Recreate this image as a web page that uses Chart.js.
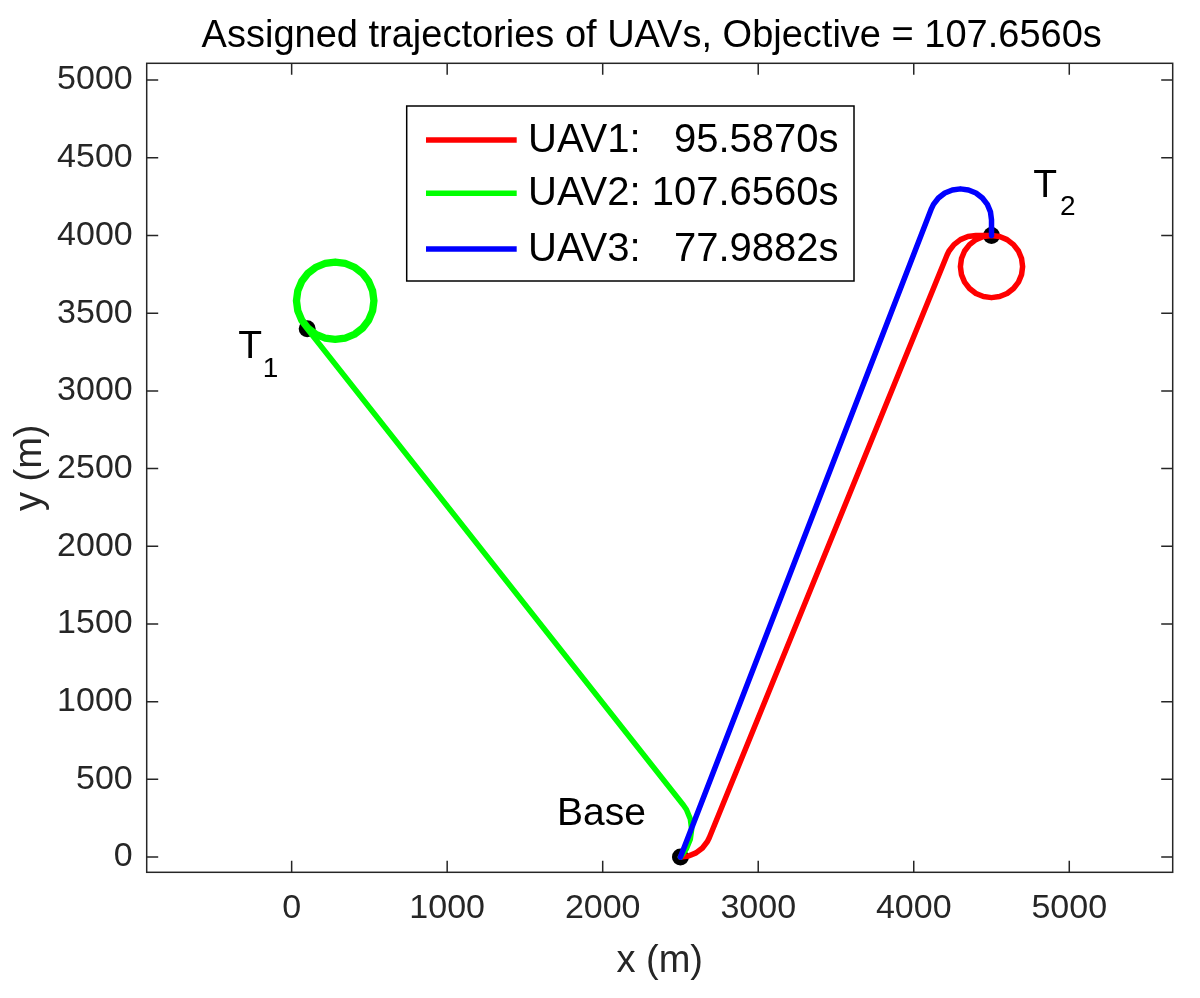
<!DOCTYPE html>
<html>
<head>
<meta charset="utf-8">
<title>Assigned trajectories of UAVs</title>
<script src="https://cdn.jsdelivr.net/npm/chart.js@4/dist/chart.umd.min.js"></script>
<style>
  html, body { margin: 0; padding: 0; background: #fff; }
  #plot { display: block; }
</style>
</head>
<body>
<canvas id="plot" width="1200" height="998"></canvas>
<script>
// values (metres)
const chartTitle = "Assigned trajectories of UAVs, Objective = 107.6560s";
const xLabel = "x (m)";
const yLabel = "y (m)";
const xTicks = [0, 1000, 2000, 3000, 4000, 5000];
const yTicks = [0, 500, 1000, 1500, 2000, 2500, 3000, 3500, 4000, 4500, 5000];
const xRange = [-932, 5665];
const yRange = [-98, 5108];

const uavNames = ["UAV1:   95.5870s", "UAV2: 107.6560s", "UAV3:   77.9882s"];
const uavColors = ["#ff0000", "#00ff00", "#0000ff"];

// UAV1: base -> turn -> straight -> turn -> T2, then one loiter loop round T2
const uav1Path = [
  [2500, 0], [2551.8, 6.8], [2600, 26.8], [2641.4, 58.6], [2673.2, 100], [2685.2, 124.5],
  [4214.8, 3875.5], [4226.8, 3900], [4258.6, 3941.4], [4300, 3973.2], [4348.2, 3993.2], [4400, 4000],
  [4500, 4000], [4551.8, 3993.2], [4600, 3973.2], [4641.4, 3941.4], [4673.2, 3900], [4693.2, 3851.8],
  [4700, 3800], [4693.2, 3748.2], [4673.2, 3700], [4641.4, 3658.6], [4600, 3626.8], [4551.8, 3606.8],
  [4500, 3600], [4448.2, 3606.8], [4400, 3626.8], [4358.6, 3658.6], [4326.8, 3700], [4306.8, 3748.2],
  [4300, 3800], [4306.8, 3851.8], [4326.8, 3900], [4358.6, 3941.4], [4400, 3973.2], [4448.2, 3993.2],
  [4500, 4000]
];

// UAV2: base -> turn -> straight -> T1, then loiter loops round T1
const uav2Path = [
  [2500, 0], [2538.2, 54], [2563.4, 114.8], [2572, 180], [2563.4, 245.2], [2538.2, 306], [2518.3, 335.5],
  [100, 3400], [59.2, 3452.5], [33.7, 3514], [25, 3580], [33.7, 3646], [59.2, 3707.5], [99.7, 3760.3],
  [152.5, 3800.8], [214, 3826.3], [280, 3835], [346, 3826.3], [407.5, 3800.8], [460.3, 3760.3],
  [500.8, 3707.5], [526.3, 3646], [535, 3580], [526.3, 3514], [500.8, 3452.5], [460.3, 3399.7],
  [407.5, 3359.2], [346, 3333.7], [280, 3325], [214, 3333.7], [152.5, 3359.2], [108.2, 3408.2],
  [69.6, 3458.5], [45.3, 3517.1], [37, 3580], [45.3, 3642.9], [69.6, 3701.5], [108.2, 3751.8],
  [158.5, 3790.4], [217.1, 3814.7], [280, 3823], [342.9, 3814.7], [401.5, 3790.4], [451.8, 3751.8],
  [490.4, 3701.5], [514.7, 3642.9], [523, 3580], [514.7, 3517.1], [490.4, 3458.5], [451.8, 3408.2],
  [401.5, 3369.6], [342.9, 3345.3], [280, 3337], [217.1, 3345.3], [158.5, 3369.6], [108.2, 3408.2]
];

// UAV3: base -> straight -> turn over the top -> down into T2
const uav3Path = [
  [2500, 0], [4113.8, 4173], [4126.8, 4200], [4158.6, 4241.4], [4200, 4273.2], [4248.2, 4293.2],
  [4300, 4300], [4351.8, 4293.2], [4400, 4273.2], [4441.4, 4241.4], [4473.2, 4200], [4493.2, 4151.8],
  [4500, 4100], [4500, 4000]
];

const siteX = [2500, 100, 4500];
const siteY = [0, 3400, 4000];

const fontFamily = "'Liberation Sans', Arial, Helvetica, sans-serif";
const axisColor = "#262626";

function lineSet(label, color, path, order) {
  return {
    label: label,
    data: path,
    showLine: true,
    borderColor: color,
    backgroundColor: color,
    borderWidth: 5.5,
    pointRadius: 0,
    pointHoverRadius: 0,
    tension: 0,
    fill: false,
    borderCapStyle: "round",
    borderJoinStyle: "round",
    order: order
  };
}

const decorPlugin = {
  id: "decor",
  afterDraw(chart) {
    const ctx = chart.ctx;
    const a = chart.chartArea;
    const sx = chart.scales.x;
    const sy = chart.scales.y;
    const tick = 11.5;
    ctx.save();

    // axes box with inward ticks on all four sides
    ctx.strokeStyle = axisColor;
    ctx.lineWidth = 1.5;
    ctx.strokeRect(a.left, a.top, a.right - a.left, a.bottom - a.top);
    ctx.beginPath();
    xTicks.forEach(function (v) {
      const px = sx.getPixelForValue(v);
      ctx.moveTo(px, a.bottom); ctx.lineTo(px, a.bottom - tick);
      ctx.moveTo(px, a.top); ctx.lineTo(px, a.top + tick);
    });
    yTicks.forEach(function (v) {
      const py = sy.getPixelForValue(v);
      ctx.moveTo(a.left, py); ctx.lineTo(a.left + tick, py);
      ctx.moveTo(a.right, py); ctx.lineTo(a.right - tick, py);
    });
    ctx.stroke();

    // title and axis labels
    const midX = (a.left + a.right) / 2;
    const midY = (a.top + a.bottom) / 2;
    ctx.fillStyle = "#000";
    ctx.font = "38px " + fontFamily;
    ctx.textAlign = "center";
    ctx.textBaseline = "alphabetic";
    ctx.fillText(chartTitle, midX - 8, 46.7);
    ctx.fillStyle = axisColor;
    ctx.fillText(xLabel, midX, 971.7);
    ctx.save();
    ctx.translate(41, midY);
    ctx.rotate(-Math.PI / 2);
    ctx.fillText(yLabel, 0, 0);
    ctx.restore();

    // site annotations
    ctx.fillStyle = "#000";
    ctx.textAlign = "left";
    const base = [sx.getPixelForValue(siteX[0]), sy.getPixelForValue(siteY[0])];
    const t1 = [sx.getPixelForValue(siteX[1]), sy.getPixelForValue(siteY[1])];
    const t2 = [sx.getPixelForValue(siteX[2]), sy.getPixelForValue(siteY[2])];
    ctx.font = "39px " + fontFamily;
    ctx.fillText("Base", base[0] - 123.5, base[1] - 32);
    ctx.fillText("T", t1[0] - 69, t1[1] + 29.7);
    ctx.fillText("T", t2[0] + 41.8, t2[1] - 38.7);
    ctx.font = "28px " + fontFamily;
    ctx.fillText("1", t1[0] - 44.5, t1[1] + 48);
    ctx.fillText("2", t2[0] + 68.5, t2[1] - 20.4);

    // legend box
    const box = { left: 406.7, top: 106, right: 854, bottom: 281 };
    ctx.fillStyle = "#fff";
    ctx.fillRect(box.left, box.top, box.right - box.left, box.bottom - box.top);
    ctx.strokeStyle = "#000";
    ctx.lineWidth = 1.5;
    ctx.strokeRect(box.left, box.top, box.right - box.left, box.bottom - box.top);
    const rows = [140, 193.3, 249];
    ctx.font = "40px " + fontFamily;
    ctx.textBaseline = "middle";
    uavNames.forEach(function (name, i) {
      ctx.strokeStyle = uavColors[i];
      ctx.lineWidth = 5.5;
      ctx.beginPath();
      ctx.moveTo(426, rows[i]);
      ctx.lineTo(516.7, rows[i]);
      ctx.stroke();
      ctx.fillStyle = "#000";
      ctx.fillText(name, 528, rows[i] + 1);
    });
    ctx.restore();
  }
};

const sitePoints = siteX.map(function (v, i) { return [v, siteY[i]]; });

function plainLabel(value) { return String(value); }

new Chart(document.getElementById("plot"), {
  type: "scatter",
  data: {
    datasets: [
      lineSet(uavNames[0], uavColors[0], uav1Path, 3),
      lineSet(uavNames[1], uavColors[1], uav2Path, 2),
      lineSet(uavNames[2], uavColors[2], uav3Path, 1),
      {
        label: "sites",
        data: sitePoints,
        showLine: false,
        pointRadius: 8.5,
        pointHoverRadius: 8.5,
        pointBackgroundColor: "#000",
        pointBorderColor: "#000",
        pointBorderWidth: 0,
        order: 4
      }
    ]
  },
  options: {
    responsive: false,
    animation: false,
    devicePixelRatio: 1,
    layout: { padding: { top: 63.3, right: 27.3, left: 0, bottom: 0 } },
    plugins: {
      legend: { display: false },
      title: { display: false },
      tooltip: { enabled: false }
    },
    scales: {
      x: {
        type: "linear",
        position: "bottom",
        min: xRange[0],
        max: xRange[1],
        grid: { display: false, drawTicks: false },
        border: { display: false },
        ticks: {
          padding: 15.6,
          color: axisColor,
          font: { family: fontFamily, size: 34 },
          maxRotation: 0,
          callback: plainLabel
        },
        afterBuildTicks: function (axis) {
          axis.ticks = xTicks.map(function (v) { return { value: v }; });
        },
        afterFit: function (axis) { axis.height = 125.7; }
      },
      y: {
        type: "linear",
        position: "left",
        min: yRange[0],
        max: yRange[1],
        grid: { display: false, drawTicks: false },
        border: { display: false },
        ticks: {
          padding: 14,
          color: axisColor,
          font: { family: fontFamily, size: 34 },
          callback: plainLabel
        },
        afterBuildTicks: function (axis) {
          axis.ticks = yTicks.map(function (v) { return { value: v }; });
        },
        afterFit: function (axis) { axis.width = 146.7; }
      }
    }
  },
  plugins: [decorPlugin]
});
</script>
</body>
</html>
